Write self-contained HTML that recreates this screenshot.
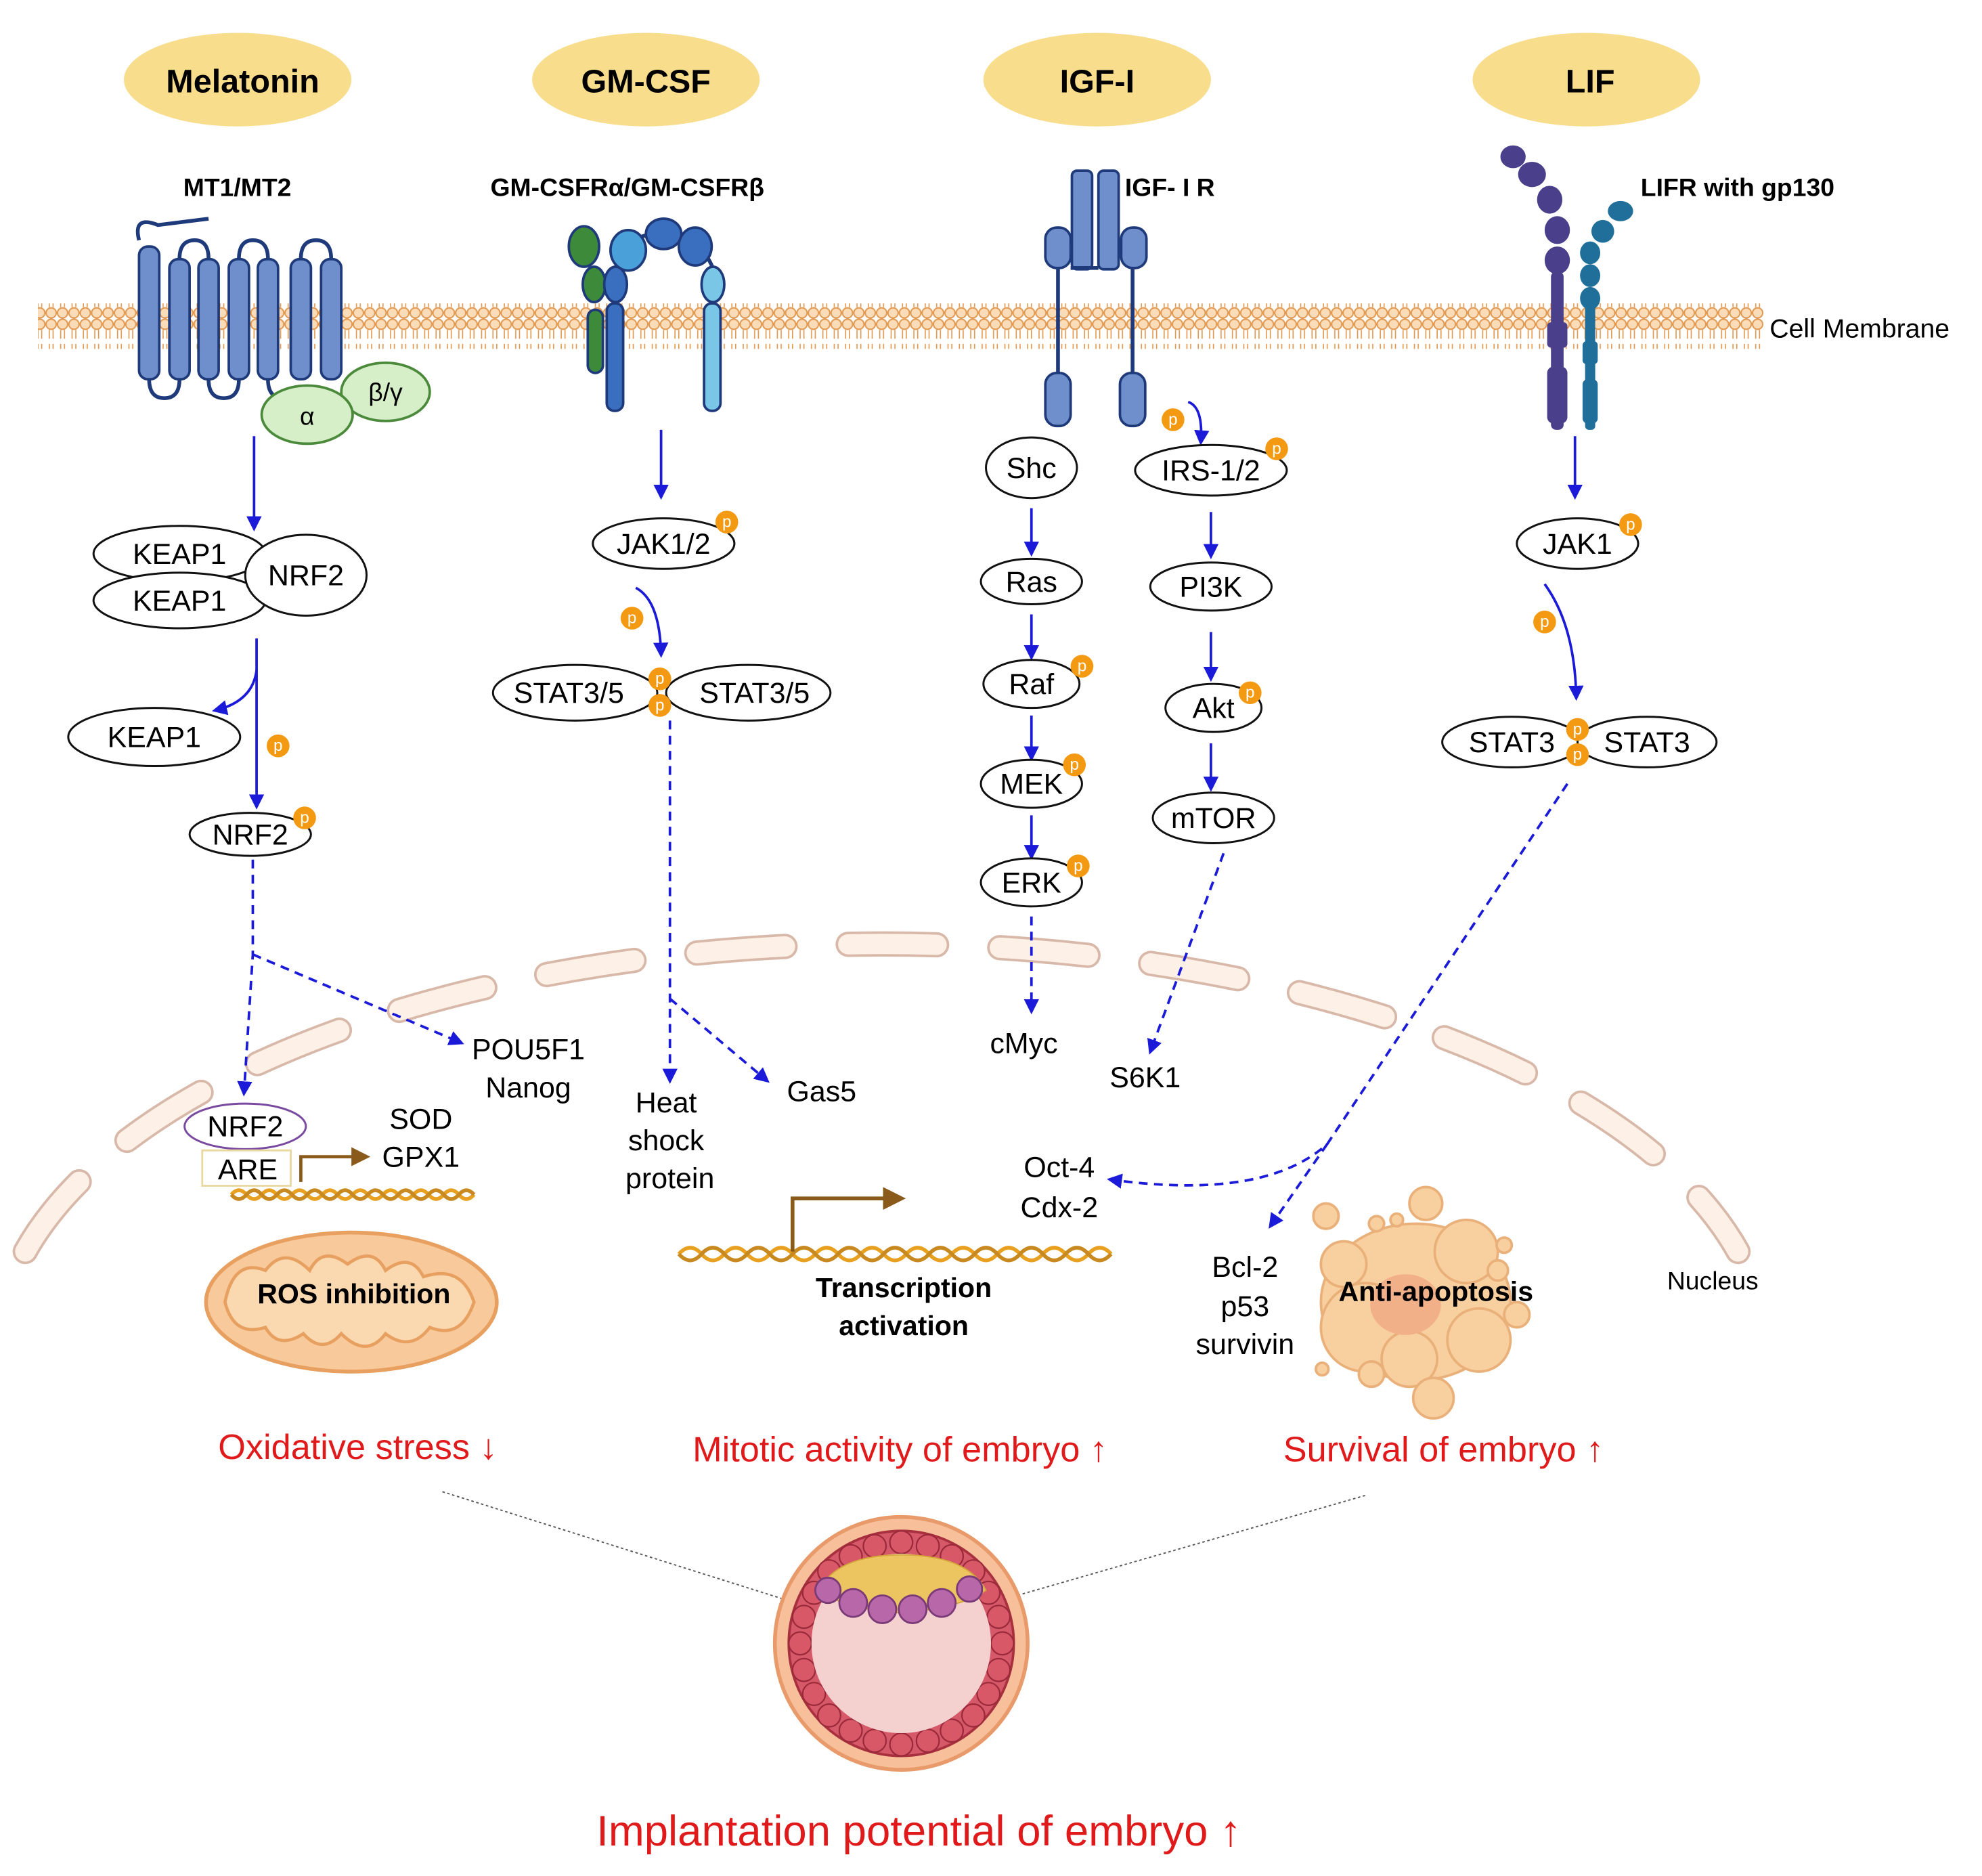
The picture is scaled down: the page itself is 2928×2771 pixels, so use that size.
<!DOCTYPE html>
<html><head><meta charset="utf-8"><style>
html,body{margin:0;padding:0;background:#fff}
svg{display:block}
text{font-family:"Liberation Sans",Arial,sans-serif}
</style></head><body>
<svg width="2928" height="2771" viewBox="0 0 1568 1484" preserveAspectRatio="none" xmlns="http://www.w3.org/2000/svg">
<defs>
<marker id="ar" viewBox="0 0 10 10" refX="8" refY="5" markerWidth="6" markerHeight="6" orient="auto"><path d="M0,0 L10,5 L0,10 z" fill="#1a1ad8"/></marker>
<marker id="ao" viewBox="0 0 10 10" refX="8" refY="5" markerWidth="6" markerHeight="6" orient="auto"><path d="M0,0 L10,5 L0,10 z" fill="#8a5a1a"/></marker>
<pattern id="mem" width="9" height="36" patternUnits="userSpaceOnUse">
<circle cx="4.5" cy="4.5" r="4" fill="#fbdcb8" stroke="#e29a52" stroke-width="1.1"/>
<circle cx="4.5" cy="31.5" r="4" fill="#fbdcb8" stroke="#e29a52" stroke-width="1.1"/>
<path d="M3,9 L3,16 M6,9 L6,16 M3,20 L3,27 M6,20 L6,27" stroke="#e29a52" stroke-width="0.9"/>
</pattern>
</defs>
<rect width="1568" height="1484" fill="#fff"/>

<g fill="#f8dd8c">
<ellipse cx="188" cy="63" rx="90" ry="37"/><ellipse cx="511" cy="63" rx="90" ry="37"/>
<ellipse cx="868" cy="63" rx="90" ry="37"/><ellipse cx="1255" cy="63" rx="90" ry="37"/>
</g>
<g font-weight="bold" font-size="26" text-anchor="middle">
<text x="192" y="73">Melatonin</text><text x="511" y="73">GM-CSF</text>
<text x="868" y="73">IGF-I</text><text x="1258" y="73">LIF</text>
</g>
<g font-weight="bold" font-size="20">
<text x="145" y="155">MT1/MT2</text><text x="388" y="155">GM-CSFRα/GM-CSFRβ</text>
<text x="890" y="155">IGF- I R</text><text x="1298" y="155">LIFR with gp130</text>
</g>

<rect x="30" y="240" width="1365" height="36" fill="url(#mem)"/>
<text x="1400" y="267" font-size="21">Cell Membrane</text>

<!-- MT1/MT2 -->
<path d="M110,190 Q105,170 125,178 L165,173" fill="none" stroke="#1f3a7a" stroke-width="3"/>
<path d="M118,300 Q118,315 130,315 Q142,315 142,300 M165,300 Q165,315 177,315 Q189,315 189,300 M212,300 Q212,315 224,315 M142,205 Q142,190 154,190 Q165,190 165,205 M189,205 Q189,190 200,190 Q212,190 212,205 M238,205 Q238,190 250,190 Q262,190 262,205" fill="none" stroke="#1f3a7a" stroke-width="3"/>
<g fill="#6f8fcc" stroke="#1f3a7a" stroke-width="2">
<rect x="110" y="195" width="16" height="105" rx="7"/><rect x="134" y="205" width="16" height="95" rx="7"/>
<rect x="157" y="205" width="16" height="95" rx="7"/><rect x="181" y="205" width="16" height="95" rx="7"/>
<rect x="204" y="205" width="16" height="95" rx="7"/><rect x="230" y="205" width="16" height="95" rx="7"/>
<rect x="254" y="205" width="16" height="95" rx="7"/>
</g>
<ellipse cx="305" cy="310" rx="35" ry="23" fill="#d6efc9" stroke="#4a8a3a" stroke-width="2"/>
<ellipse cx="243" cy="328" rx="36" ry="23" fill="#d6efc9" stroke="#4a8a3a" stroke-width="2"/>
<text x="243" y="336" font-size="20" text-anchor="middle">α</text>
<text x="305" y="317" font-size="20" text-anchor="middle">β/γ</text>

<!-- GM-CSF receptor -->
<g stroke="#1f3a7a" stroke-width="2">
<path d="M486,215 Q495,185 520,185 Q555,185 565,215" fill="none" stroke-width="3"/>
<ellipse cx="462" cy="195" rx="12" ry="16" fill="#3d8a3a"/><ellipse cx="470" cy="225" rx="9" ry="14" fill="#3d8a3a"/>
<rect x="465" y="245" width="12" height="50" rx="6" fill="#3d8a3a"/>
<ellipse cx="497" cy="198" rx="14" ry="16" fill="#4aa0d8"/><ellipse cx="525" cy="185" rx="14" ry="12" fill="#3a6fc0"/>
<ellipse cx="550" cy="195" rx="13" ry="15" fill="#3a6fc0"/><ellipse cx="564" cy="225" rx="9" ry="14" fill="#7ac6e6"/>
<ellipse cx="487" cy="225" rx="9" ry="14" fill="#3a6fc0"/>
<rect x="480" y="240" width="13" height="85" rx="6" fill="#3a6fc0"/>
<rect x="557" y="240" width="13" height="85" rx="6" fill="#7ac6e6"/>
</g>

<!-- IGF receptor -->
<g fill="#6f8fcc" stroke="#1f3a7a" stroke-width="2">
<rect x="848" y="135" width="16" height="78" rx="4"/><rect x="869" y="135" width="16" height="78" rx="4"/>
<rect x="827" y="180" width="20" height="32" rx="9"/><rect x="887" y="180" width="20" height="32" rx="9"/>
<rect x="827" y="295" width="20" height="42" rx="9"/><rect x="886" y="295" width="20" height="42" rx="9"/>
</g>
<path d="M837,212 L837,295 M896,212 L896,295 M847,212 L869,212" stroke="#1f3a7a" stroke-width="3" fill="none"/>

<!-- LIF receptor -->
<g fill="#4a3f8a">
<ellipse cx="1197" cy="124" rx="10" ry="9"/><ellipse cx="1212" cy="138" rx="11" ry="10"/><ellipse cx="1226" cy="158" rx="10" ry="11"/>
<ellipse cx="1232" cy="182" rx="10" ry="11"/><ellipse cx="1232" cy="206" rx="10" ry="11"/>
<rect x="1227" y="215" width="10" height="125" rx="4"/><rect x="1224" y="255" width="16" height="20" rx="3"/><rect x="1224" y="290" width="16" height="45" rx="5"/>
</g>
<g fill="#1f6f9a">
<ellipse cx="1282" cy="167" rx="10" ry="8"/><ellipse cx="1268" cy="183" rx="9" ry="9"/><ellipse cx="1258" cy="200" rx="8" ry="9"/>
<ellipse cx="1258" cy="218" rx="8" ry="9"/><ellipse cx="1258" cy="236" rx="8" ry="9"/>
<rect x="1254" y="240" width="8" height="100" rx="3"/><rect x="1252" y="270" width="12" height="18" rx="3"/><rect x="1252" y="300" width="12" height="35" rx="4"/>
</g>

<!-- nucleus -->
<path d="M20,990 A700 325 0 0 1 1375,990" fill="none" stroke="#d8b8a8" stroke-width="20" stroke-dasharray="70,50" stroke-linecap="round"/>
<path d="M20,990 A700 325 0 0 1 1375,990" fill="none" stroke="#fdf1e7" stroke-width="16" stroke-dasharray="70,50" stroke-linecap="round"/>
<text x="1355" y="1020" font-size="20" text-anchor="middle">Nucleus</text>

<g stroke="#1a1ad8" stroke-width="2" fill="none" marker-end="url(#ar)">
<path d="M201,345 L201,418"/><path d="M203,505 L203,638"/><path d="M203,530 Q200,555 170,562"/>
<path d="M523,340 L523,393"/><path d="M503,465 Q522,475 523,518"/>
<path d="M816,402 L816,438"/><path d="M816,486 L816,520"/><path d="M816,566 L816,600"/><path d="M816,645 L816,678"/>
<path d="M940,318 Q952,322 950,350"/><path d="M958,405 L958,440"/><path d="M958,500 L958,537"/><path d="M958,588 L958,624"/>
<path d="M1246,345 L1246,393"/><path d="M1222,462 Q1246,495 1247,552"/>
</g>
<g stroke="#1a1ad8" stroke-width="2" fill="none" stroke-dasharray="7,5" marker-end="url(#ar)">
<path d="M200,680 L200,755 L193,865"/><path d="M200,755 L365,825"/>
<path d="M530,570 L530,855"/><path d="M530,790 L607,855"/>
<path d="M816,725 L816,800"/><path d="M968,675 L910,832"/>
<path d="M1240,620 L1050,905 Q1000,950 878,933"/><path d="M1050,905 L1005,970"/>
</g>

<g fill="#fff" stroke="#111" stroke-width="1.6">
<ellipse cx="142" cy="438" rx="68" ry="22"/><ellipse cx="142" cy="475" rx="68" ry="22"/><ellipse cx="242" cy="455" rx="48" ry="32"/>
<ellipse cx="122" cy="583" rx="68" ry="23"/><ellipse cx="198" cy="660" rx="48" ry="17"/>
<ellipse cx="525" cy="430" rx="56" ry="20"/><ellipse cx="455" cy="548" rx="65" ry="22"/><ellipse cx="592" cy="548" rx="65" ry="22"/>
<ellipse cx="816" cy="370" rx="36" ry="24"/><ellipse cx="816" cy="460" rx="40" ry="18"/><ellipse cx="816" cy="541" rx="38" ry="19"/>
<ellipse cx="816" cy="620" rx="40" ry="19"/><ellipse cx="816" cy="698" rx="40" ry="19"/>
<ellipse cx="958" cy="372" rx="60" ry="20"/><ellipse cx="958" cy="464" rx="48" ry="19"/><ellipse cx="960" cy="560" rx="38" ry="19"/><ellipse cx="960" cy="647" rx="48" ry="20"/>
<ellipse cx="1248" cy="430" rx="48" ry="20"/><ellipse cx="1196" cy="587" rx="55" ry="20"/><ellipse cx="1303" cy="587" rx="55" ry="20"/>
</g>
<ellipse cx="194" cy="891" rx="48" ry="18" fill="#fff" stroke="#7a4aa0" stroke-width="1.6"/>
<rect x="160" y="910" width="70" height="28" fill="#fff" stroke="#e8d8a0" stroke-width="1.5"/>
<g font-size="23" text-anchor="middle">
<text x="142" y="446">KEAP1</text><text x="142" y="483">KEAP1</text><text x="242" y="463">NRF2</text>
<text x="122" y="591">KEAP1</text><text x="198" y="668">NRF2</text>
<text x="525" y="438">JAK1/2</text><text x="450" y="556">STAT3/5</text><text x="597" y="556">STAT3/5</text>
<text x="816" y="378">Shc</text><text x="816" y="468">Ras</text><text x="816" y="549">Raf</text><text x="816" y="628">MEK</text><text x="816" y="706">ERK</text>
<text x="958" y="380">IRS-1/2</text><text x="958" y="472">PI3K</text><text x="960" y="568">Akt</text><text x="960" y="655">mTOR</text>
<text x="1248" y="438">JAK1</text><text x="1196" y="595">STAT3</text><text x="1303" y="595">STAT3</text>
<text x="194" y="899">NRF2</text><text x="196" y="933">ARE</text>
<text x="418" y="838">POU5F1</text><text x="418" y="868">Nanog</text>
<text x="333" y="893">SOD</text><text x="333" y="923">GPX1</text>
<text x="527" y="880">Heat</text><text x="527" y="910">shock</text><text x="530" y="940">protein</text>
<text x="650" y="871">Gas5</text><text x="810" y="833">cMyc</text><text x="906" y="860">S6K1</text>
<text x="838" y="931">Oct-4</text><text x="838" y="963">Cdx-2</text>
<text x="985" y="1010">Bcl-2</text><text x="985" y="1041">p53</text><text x="985" y="1071">survivin</text>
</g>

<g fill="#f39a12">
<circle cx="220" cy="590" r="9"/><circle cx="241" cy="647" r="9"/><circle cx="575" cy="413" r="9"/><circle cx="500" cy="489" r="9"/>
<circle cx="522" cy="537" r="9"/><circle cx="522" cy="558" r="9"/><circle cx="856" cy="527" r="9"/><circle cx="850" cy="605" r="9"/>
<circle cx="853" cy="685" r="9"/><circle cx="1010" cy="355" r="9"/><circle cx="928" cy="332" r="9"/><circle cx="989" cy="548" r="9"/>
<circle cx="1290" cy="415" r="9"/><circle cx="1222" cy="492" r="9"/><circle cx="1248" cy="577" r="9"/><circle cx="1248" cy="597" r="9"/>
</g>
<g fill="#fff" font-size="13" text-anchor="middle">
<text x="220" y="594">p</text><text x="241" y="651">p</text><text x="575" y="417">p</text><text x="500" y="493">p</text>
<text x="522" y="541">p</text><text x="522" y="562">p</text><text x="856" y="531">p</text><text x="850" y="609">p</text>
<text x="853" y="689">p</text><text x="1010" y="359">p</text><text x="928" y="336">p</text><text x="989" y="552">p</text>
<text x="1290" y="419">p</text><text x="1222" y="496">p</text><text x="1248" y="581">p</text><text x="1248" y="601">p</text>
</g>

<g fill="none" stroke-width="3">
<path d="M183,945 q6,-7 12,0 t12,0 t12,0 t12,0 t12,0 t12,0 t12,0 t12,0 t12,0 t12,0 t12,0 t12,0 t12,0 t12,0 t12,0 t12,0" stroke="#e8a020"/>
<path d="M183,945 q6,7 12,0 t12,0 t12,0 t12,0 t12,0 t12,0 t12,0 t12,0 t12,0 t12,0 t12,0 t12,0 t12,0 t12,0 t12,0 t12,0" stroke="#c88a20"/>
<path d="M537,992 q9,-10 18,0 t18,0 t18,0 t18,0 t18,0 t18,0 t18,0 t18,0 t18,0 t18,0 t18,0 t18,0 t18,0 t18,0 t18,0 t18,0 t18,0 t18,0 t18,0" stroke="#e8a020"/>
<path d="M537,992 q9,10 18,0 t18,0 t18,0 t18,0 t18,0 t18,0 t18,0 t18,0 t18,0 t18,0 t18,0 t18,0 t18,0 t18,0 t18,0 t18,0 t18,0 t18,0 t18,0" stroke="#c88a20"/>
</g>
<path d="M238,935 L238,915 L290,915" fill="none" stroke="#8a5a1a" stroke-width="2.5" marker-end="url(#ao)"/>
<path d="M627,990 L627,948 L713,948" fill="none" stroke="#8a5a1a" stroke-width="3" marker-end="url(#ao)"/>

<ellipse cx="278" cy="1030" rx="115" ry="55" fill="#f8c99a" stroke="#e8a060" stroke-width="3"/>
<path d="M178,1030 Q185,995 210,1005 Q225,985 245,1005 Q255,985 275,1000 Q295,985 305,1005 Q325,990 335,1010 Q365,1000 375,1030 Q365,1060 340,1050 Q325,1070 305,1055 Q290,1075 270,1055 Q255,1072 240,1055 Q220,1068 210,1050 Q185,1058 178,1030 z" fill="#fad8b0" stroke="#e8a060" stroke-width="2.5"/>
<text x="280" y="1031" font-size="22" font-weight="bold" text-anchor="middle">ROS inhibition</text>

<g fill="#f8cf9e" stroke="#eab07a" stroke-width="2">
<ellipse cx="1120" cy="1030" rx="75" ry="62"/><circle cx="1160" cy="990" r="25"/><circle cx="1080" cy="1050" r="35"/>
<circle cx="1115" cy="1075" r="22"/><circle cx="1170" cy="1060" r="25"/><circle cx="1063" cy="1000" r="18"/>
<circle cx="1049" cy="962" r="10"/><circle cx="1128" cy="952" r="13"/><circle cx="1089" cy="968" r="6"/><circle cx="1105" cy="965" r="5"/>
<circle cx="1190" cy="985" r="6"/><circle cx="1200" cy="1040" r="10"/><circle cx="1134" cy="1106" r="16"/><circle cx="1085" cy="1087" r="10"/>
<circle cx="1046" cy="1083" r="5"/><circle cx="1185" cy="1005" r="8"/>
</g>
<ellipse cx="1112" cy="1032" rx="28" ry="24" fill="#f1b088"/>
<text x="1136" y="1029" font-size="22" font-weight="bold" text-anchor="middle">Anti-apoptosis</text>

<g font-size="22" font-weight="bold" text-anchor="middle">
<text x="715" y="1026">Transcription</text><text x="715" y="1056">activation</text>
</g>

<g fill="#e01a1a" text-anchor="middle" font-size="28">
<text x="283" y="1154">Oxidative stress ↓</text><text x="712" y="1156">Mitotic activity of embryo ↑</text>
<text x="1142" y="1156">Survival of embryo ↑</text>
<text x="727" y="1460" font-size="34">Implantation potential of embryo ↑</text>
</g>
<path d="M350,1180 L620,1265 M1080,1183 L805,1262" stroke="#555" stroke-width="1" stroke-dasharray="2,2"/>

<circle cx="713" cy="1300" r="100" fill="#f7c09a" stroke="#e89a6a" stroke-width="3"/>
<circle cx="713" cy="1300" r="89" fill="#d6596a" stroke="#a8303f" stroke-width="2"/>
<g fill="#d85868" stroke="#9a2a3a" stroke-width="1.2">
<circle cx="793" cy="1300" r="9"/><circle cx="790" cy="1321" r="9"/><circle cx="782" cy="1340" r="9"/><circle cx="770" cy="1357" r="9"/><circle cx="753" cy="1369" r="9"/><circle cx="734" cy="1377" r="9"/><circle cx="713" cy="1380" r="9"/><circle cx="692" cy="1377" r="9"/><circle cx="673" cy="1369" r="9"/><circle cx="656" cy="1357" r="9"/><circle cx="644" cy="1340" r="9"/><circle cx="636" cy="1321" r="9"/><circle cx="633" cy="1300" r="9"/><circle cx="636" cy="1279" r="9"/><circle cx="644" cy="1260" r="9"/><circle cx="656" cy="1243" r="9"/><circle cx="673" cy="1231" r="9"/><circle cx="692" cy="1223" r="9"/><circle cx="713" cy="1220" r="9"/><circle cx="734" cy="1223" r="9"/><circle cx="753" cy="1231" r="9"/><circle cx="770" cy="1243" r="9"/><circle cx="782" cy="1260" r="9"/><circle cx="790" cy="1279" r="9"/>
</g>
<circle cx="713" cy="1300" r="71" fill="#f4d0cf"/>
<path d="M648,1258 Q662,1230 713,1230 Q765,1230 780,1258 Q760,1272 713,1276 Q665,1272 648,1258 z" fill="#ecc460" stroke="#d4a63a"/>
<g fill="#b868a8" stroke="#7a3a78" stroke-width="1.5">
<circle cx="655" cy="1258" r="10"/><circle cx="675" cy="1268" r="11"/><circle cx="698" cy="1273" r="11"/><circle cx="722" cy="1273" r="11"/><circle cx="745" cy="1268" r="11"/><circle cx="767" cy="1257" r="10"/>
</g>
</svg>
</body></html>
